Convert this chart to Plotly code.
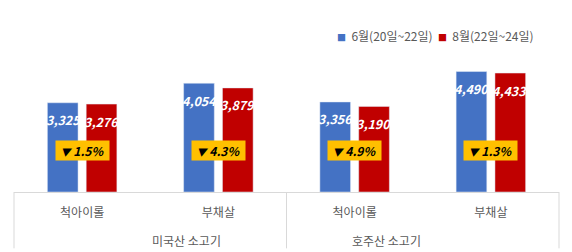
import plotly.graph_objects as go

categories = ["척아이롤", "부채살", "척아이롤", "부채살"]
groups = ["미국산 소고기", "호주산 소고기"]
series_names = ["6월(20일~22일)", "8월(22일~24일)"]
june = [3325, 4054, 3356, 4490]
aug = [3276, 3879, 3190, 4433]
change = ["▼ 1.5%", "▼ 4.3%", "▼ 4.9%", "▼ 1.3%"]

BLUE = "#4472C4"
RED = "#C00000"
YELLOW = "#FFC000"
GRAY = "#595959"
LINE = "#D9D9D9"
FONT = "Noto Sans CJK KR"

x = list(range(len(categories)))

fig = go.Figure()
fig.add_trace(go.Bar(x=x, y=june, name=series_names[0], marker_color=BLUE, showlegend=False, hoverinfo="skip"))
fig.add_trace(go.Bar(x=x, y=aug, name=series_names[1], marker_color=RED, showlegend=False, hoverinfo="skip"))

ann = []
for i in x:
    for vals, sh in ((june, -19), (aug, 19)):
        ann.append(dict(x=i, y=vals[i], xref="x", yref="y", xshift=sh, yshift=-17,
                        yanchor="middle", text=f"{vals[i]:,}", showarrow=False,
                        font=dict(family=FONT, size=12.5, color="white", weight="bold", style="italic")))
    ann.append(dict(x=i, y=0.26, xref="x", yref="paper", yanchor="middle",
                    text=f"<span style='font-size:10px'>{change[i][0]}</span>{change[i][1:]}",
                    showarrow=False, bgcolor=YELLOW, width=49, height=15, borderpad=2,
                    font=dict(family=FONT, size=12, color="black", weight="bold", style="italic")))

for g, name in enumerate(groups):
    ann.append(dict(x=0.25 + 0.5 * g, y=-0.30, xref="paper", yref="paper", yanchor="middle", text=name,
                    showarrow=False, font=dict(family=FONT, size=12, color=GRAY)))

legend_text = (f"<span style='color:{BLUE};font-size:9px'>■</span>  {series_names[0]}  "
               f"<span style='color:{RED};font-size:9px'>■</span>  {series_names[1]}")
ann.append(dict(x=0.958, y=0.975, xref="paper", yref="paper", xanchor="right", yanchor="middle",
                text=legend_text, showarrow=False, font=dict(family=FONT, size=12, color=GRAY)))

shapes = []
for px in (0, 0.5, 1):
    shapes.append(dict(type="line", xref="paper", yref="paper", x0=px, x1=px, y0=0, y1=-0.35,
                       line=dict(color=LINE, width=1)))

fig.update_layout(
    width=572, height=252,
    margin=dict(l=14, r=13, t=31, b=60),
    paper_bgcolor="white", plot_bgcolor="white",
    barmode="group", bargap=0.43, bargroupgap=0.21,
    font=dict(family=FONT, size=12, color=GRAY),
    annotations=ann, shapes=shapes,
    xaxis=dict(range=[-0.5, 3.5], tickvals=x, ticktext=categories, showline=True, linecolor=LINE,
               ticks="", showgrid=False, zeroline=False, ticklabelstandoff=10,
               tickfont=dict(family=FONT, size=12, color=GRAY)),
    yaxis=dict(range=[0, 6000], visible=False, showgrid=False, zeroline=False),
)

fig.write_html("out.html")
